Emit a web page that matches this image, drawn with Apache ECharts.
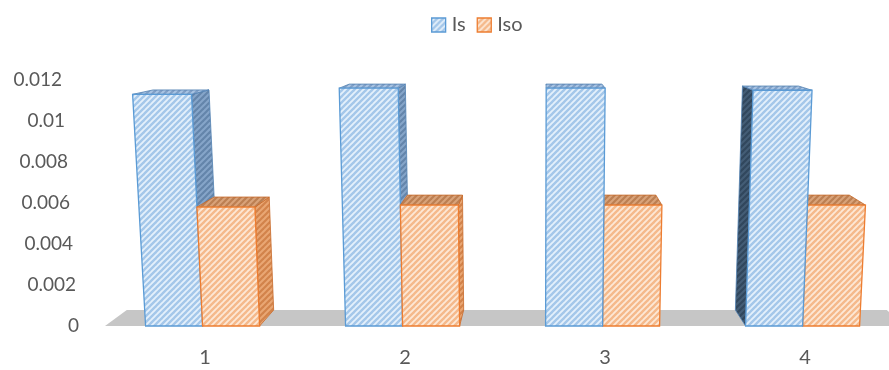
<!DOCTYPE html>
<html>
<head>
<meta charset="utf-8">
<style>
  html, body { margin: 0; padding: 0; background: #ffffff; }
  #chart { width: 889px; height: 370px; }
</style>
<script src="https://cdn.jsdelivr.net/npm/echarts@6/dist/echarts.min.js"></script>
</head>
<body>
<div id="chart"></div>
<script>
// Chart data
const categories = ['1', '2', '3', '4'];
const isValues = [0.0113, 0.0116, 0.0116, 0.0115];
const isoValues = [0.0058, 0.0059, 0.0059, 0.0059];
const yTickLabels = ['0', '0.002', '0.004', '0.006', '0.008', '0.01', '0.012'];
const seriesNames = ['Is', 'Iso'];

// Diagonal "/" hatch tile used as a repeating fill pattern
function hatch(bg, fg, size, lw) {
  const c = document.createElement('canvas');
  c.width = size; c.height = size;
  const g = c.getContext('2d');
  g.fillStyle = bg; g.fillRect(0, 0, size, size);
  g.strokeStyle = fg; g.lineWidth = lw; g.lineCap = 'square';
  for (let k = -1; k <= 1; k++) {
    g.beginPath();
    g.moveTo(k * size, size);
    g.lineTo(k * size + size, 0);
    g.stroke();
  }
  return { image: c, repeat: 'repeat' };
}

const palette = [
  { // Is
    front: hatch('#e4f0fb', '#a4c7ea', 6, 2.4),
    top: hatch('#a9c4e3', '#809fc6', 6, 2.2),
    sideR: hatch('#86a5c9', '#6485ab', 6, 2.2),
    sideL: hatch('#445d76', '#31475d', 6, 2.2),
    line: '#5b9bd5',
    dark: '#5282b2'
  },
  { // Iso
    front: hatch('#fde8d6', '#f5b98b', 6, 2.4),
    top: hatch('#d9a37a', '#bc7f52', 6, 2.2),
    sideR: hatch('#e9a774', '#d2834b', 6, 2.2),
    sideL: hatch('#a86c41', '#8a552f', 6, 2.2),
    line: '#ed7d31',
    dark: '#c8692a'
  }
];

// Perspective helpers: columns lean outward as they rise,
// and depth faces recede toward the vanishing point.
function view(cs) {
  return {
    vpx: cs.x + cs.width * 0.545,
    vpy: cs.y - 74,
    leanX: cs.x + cs.width * 0.53,
    baseY: cs.y + cs.height,
    lean: 0.036 / cs.height,
    depth: 0.05
  };
}
function warp(v, x, y) {
  const s = 1 + v.lean * (v.baseY - y);
  return [v.leanX + (x - v.leanX) * s, y];
}
function back(v, p) {
  return [p[0] + (v.vpx - p[0]) * v.depth, p[1] + (v.vpy - p[1]) * v.depth];
}

function barRenderer(si) {
  return function (params, api) {
    const v = view(params.coordSys);
    const cat = api.value(0);
    const val = api.value(1);
    const base = api.coord([cat, 0]);
    const top = api.coord([cat, val]);
    const band = api.size([1, 0])[0];
    const w = band * 0.285;
    const split = base[0] - band * 0.012;
    const xl = si === 0 ? split - w : split;
    const xr = si === 0 ? split : split + w;
    const pal = palette[si];

    const FTL = warp(v, xl, top[1]);
    const FTR = warp(v, xr, top[1]);
    const FBR = [xr, base[1]];
    const FBL = [xl, base[1]];
    const BTL = back(v, FTL), BTR = back(v, FTR), BBR = back(v, FBR), BBL = back(v, FBL);

    const dist = Math.abs((xl + xr) / 2 - v.vpx);
    const z0 = 10000 - Math.round(dist) * 10;
    const children = [];
    if (xr < v.vpx - 2) {
      children.push({ type: 'polygon', z2: z0, shape: { points: [FTR, BTR, BBR, FBR] },
        style: { fill: pal.sideR, stroke: pal.dark, lineWidth: 0.8 } });
    } else if (xl > v.vpx + 20) {
      children.push({ type: 'polygon', z2: z0, shape: { points: [FTL, BTL, BBL, FBL] },
        style: { fill: pal.sideL, stroke: pal.dark, lineWidth: 0.8 } });
    }
    children.push({ type: 'polygon', z2: z0 + 1, shape: { points: [FTL, FTR, BTR, BTL] },
      style: { fill: pal.top, stroke: pal.dark, lineWidth: 0.8 } });
    children.push({ type: 'polygon', z2: z0 + 2, shape: { points: [FTL, FTR, FBR, FBL] },
      style: { fill: pal.front, stroke: pal.line, lineWidth: 1.3 } });
    return { type: 'group', children: children };
  };
}

// Floor plane under the columns
function floorRenderer(params, api) {
  const cs = params.coordSys;
  const v = view(cs);
  const fl = [cs.x, v.baseY];
  const fr = [cs.x + cs.width, v.baseY];
  return {
    type: 'polygon',
    shape: { points: [fl, fr, back(v, fr), back(v, fl)] },
    style: { fill: '#c6c6c6', stroke: null }
  };
}

const textColor = '#595959';
const font = 'Lato, "Open Sans", sans-serif';

// Right-edge offsets for value labels, following the perspective lean
const yRich = {};
yTickLabels.forEach(function (t, i) {
  yRich['t' + i] = {
    fontFamily: font, fontSize: 19, color: textColor,
    padding: [0, Math.round(17 * i / (yTickLabels.length - 1)), 0, 0]
  };
});

const chart = echarts.init(document.getElementById('chart'), null, { renderer: 'canvas' });
chart.setOption({
  animation: false,
  backgroundColor: '#ffffff',
  legend: {
    left: 426, top: 10,
    itemWidth: 14, itemHeight: 14, itemGap: 11,
    icon: 'rect',
    textStyle: { fontFamily: font, fontSize: 20, color: textColor, padding: [0, 0, 0, 1] },
    data: seriesNames.map(function (n, i) {
      return { name: n, itemStyle: { color: palette[i].front, borderColor: palette[i].line, borderWidth: 1.3 } };
    })
  },
  grid: { left: 105, top: 80, width: 800, height: 246, outerBoundsMode: 'none', containLabel: false },
  xAxis: {
    type: 'category',
    data: categories,
    axisLine: { show: false },
    axisTick: { show: false },
    axisLabel: { fontFamily: font, fontSize: 20, color: textColor, margin: 22 }
  },
  yAxis: {
    type: 'value',
    min: 0, max: 0.012, interval: 0.002,
    axisLine: { show: false },
    axisTick: { show: false },
    splitLine: { show: false },
    axisLabel: {
      margin: 26,
      formatter: function (val) {
        const i = Math.round(val / 0.002);
        return '{t' + i + '|' + yTickLabels[i] + '}';
      },
      rich: yRich
    }
  },
  series: [
    {
      type: 'custom', name: '_floor', z: 1, silent: true,
      renderItem: floorRenderer,
      data: [[0, 0]]
    },
    {
      type: 'custom', name: seriesNames[0], z: 2,
      renderItem: barRenderer(0),
      encode: { x: 0, y: 1 },
      data: isValues.map(function (v, i) { return [i, v]; })
    },
    {
      type: 'custom', name: seriesNames[1], z: 2,
      renderItem: barRenderer(1),
      encode: { x: 0, y: 1 },
      data: isoValues.map(function (v, i) { return [i, v]; })
    }
  ]
});
</script>
</body>
</html>
